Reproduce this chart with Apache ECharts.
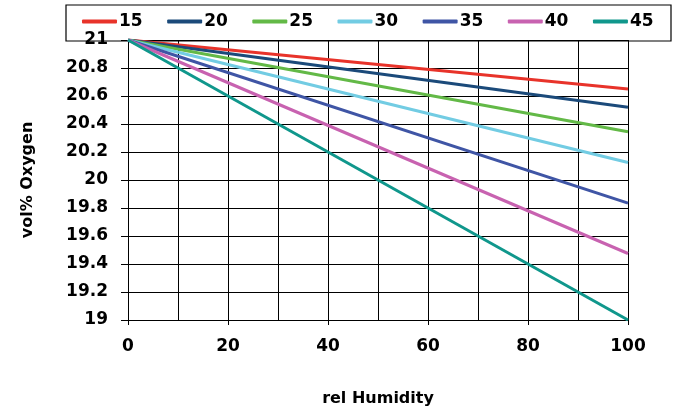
<!DOCTYPE html>
<html>
<head>
<meta charset="utf-8">
<script src="https://cdn.jsdelivr.net/npm/echarts@6/dist/echarts.min.js"></script>
<style>
  html, body { margin: 0; padding: 0; background: #fff; }
  #chart { width: 680px; height: 410px; }
</style>
</head>
<body>
<div id="chart"></div>
<script>
// temperatures (legend) and oxygen at 0 / 100 % rel humidity
const seriesNames = ['15', '20', '25', '30', '35', '40', '45'];
const humidity = [0, 100];
const oxygen15 = [21, 20.65];
const oxygen20 = [21, 20.52];
const oxygen25 = [21, 20.345];
const oxygen30 = [21, 20.125];
const oxygen35 = [21, 19.835];
const oxygen40 = [21, 19.475];
const oxygen45 = [21, 19.0];
const oxygenValues = [oxygen15, oxygen20, oxygen25, oxygen30, oxygen35, oxygen40, oxygen45];
const colors = ['#e8332a', '#1b4a7a', '#63b947', '#72cce3', '#3f55a5', '#c862b0', '#10978c'];

const font = 'DejaVu Sans';

let option = {
  animation: false,
  backgroundColor: '#fff',
  grid: { left: 128, right: 52, top: 40, bottom: 90, outerBoundsMode: 'none' },
  legend: {
    left: 82,
    top: 13,
    padding: 0,
    icon: 'roundRect',
    itemWidth: 35,
    itemHeight: 4,
    itemGap: 24.5,
    textStyle: { fontFamily: font, fontWeight: 'bold', fontSize: 17, color: '#000', padding: [0, 0, 0, -3] },
    data: seriesNames
  },
  graphic: [{
    type: 'rect',
    shape: { x: 66, y: 5, width: 605, height: 36 },
    style: { fill: 'none', stroke: '#000', lineWidth: 1.2 },
    z: -1
  }],
  xAxis: {
    type: 'value',
    min: 0,
    max: 100,
    interval: 20,
    name: 'rel Humidity',
    nameLocation: 'middle',
    nameGap: 71,
    nameTextStyle: { fontFamily: font, fontWeight: 'bold', fontSize: 16, color: '#000' },
    axisLine: { show: true, lineStyle: { color: '#000', width: 1 } },
    axisTick: { show: true, length: 5, lineStyle: { color: '#000' } },
    axisLabel: { margin: 18, fontFamily: font, fontWeight: 'bold', fontSize: 17, color: '#000' },
    splitLine: { show: true, lineStyle: { color: '#000', width: 1 } },
    minorTick: { show: false, splitNumber: 2 },
    minorSplitLine: { show: true, lineStyle: { color: '#000', width: 1 } }
  },
  yAxis: {
    type: 'value',
    min: 19,
    max: 21,
    interval: 0.2,
    name: 'vol% Oxygen',
    nameLocation: 'middle',
    nameRotate: 90,
    nameGap: 92,
    nameTextStyle: { fontFamily: font, fontWeight: 'bold', fontSize: 16, color: '#000' },
    axisLine: { show: true, lineStyle: { color: '#000', width: 1 } },
    axisTick: { show: true, length: 7, lineStyle: { color: '#000' } },
    axisLabel: {
      margin: 20,
      fontFamily: font, fontWeight: 'bold', fontSize: 17, color: '#000',
      formatter: v => String(Math.round(v * 10) / 10)
    },
    splitLine: { show: true, lineStyle: { color: '#000', width: 1 } }
  },
  series: seriesNames.map((name, i) => ({
    name: name,
    type: 'line',
    showSymbol: false,
    color: colors[i],
    lineStyle: { width: 3, color: colors[i] },
    data: humidity.map((h, j) => [h, oxygenValues[i][j]])
  }))
};

let chart = echarts.init(document.getElementById('chart'));
chart.setOption(option);
</script>
</body>
</html>
